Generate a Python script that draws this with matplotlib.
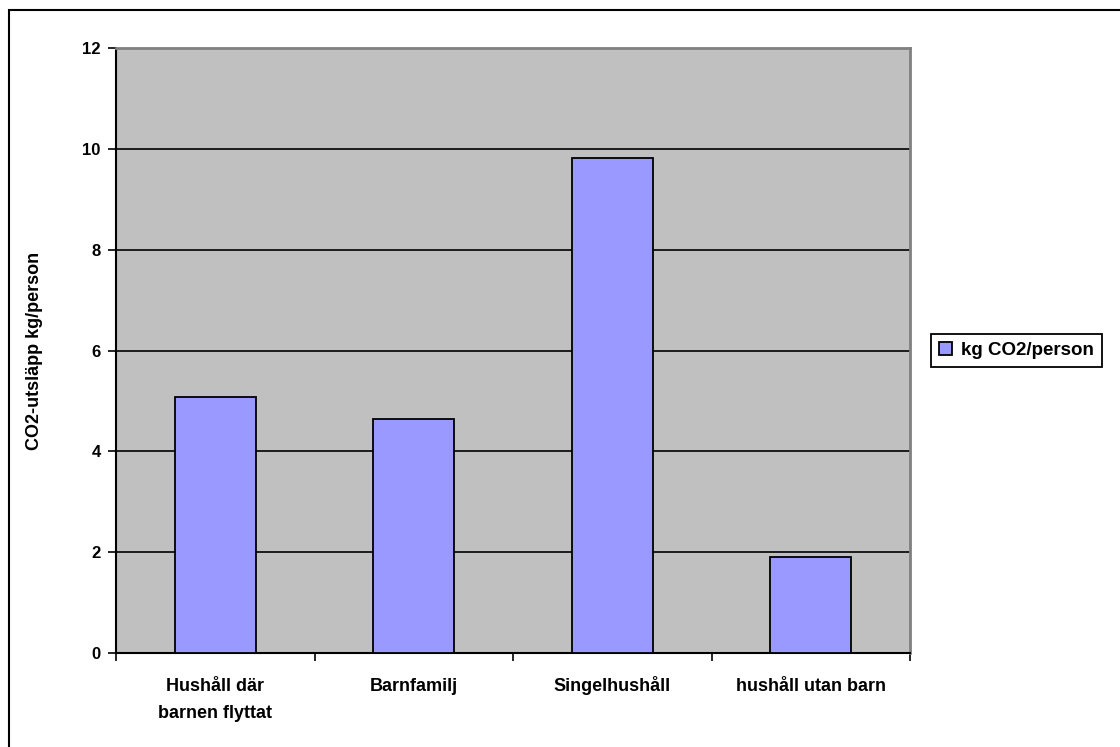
import matplotlib.pyplot as plt
from matplotlib.patches import Rectangle

categories = ["Hushåll där\nbarnen flyttat", "Barnfamilj", "Singelhushåll", "hushåll utan barn"]
values = [5.07, 4.64, 9.81, 1.91]
series_name = "kg CO2/person"

plt.rcParams['font.family'] = ['Liberation Sans', 'DejaVu Sans']
plt.rcParams['font.weight'] = 'bold'

fig = plt.figure(figsize=(11.2, 7.47), dpi=100)
ax = fig.add_axes([0.1036, 0.1258, 0.7089, 0.8099])
ax.set_facecolor('#c0c0c0')

x = list(range(len(categories)))
ax.bar(x, values, width=0.41, color='#9999ff', edgecolor='black', linewidth=1.3,
       label=series_name, zorder=3)

ax.set_xlim(-0.5, len(categories) - 0.5)
ax.set_ylim(0, 12)
ax.set_yticks(range(0, 13, 2))
ax.yaxis.grid(True, color='black', linewidth=1.2, zorder=1)
ax.set_axisbelow(True)

# ticks on category boundaries; each name line placed on its own baseline
ax.set_xticks([i - 0.5 for i in range(len(categories) + 1)])
ax.set_xticklabels([])
for xi, name in zip(x, categories):
    for k, line in enumerate(name.split("\n")):
        ax.annotate(line, xy=(xi, 0), xycoords=('data', 'axes fraction'),
                    xytext=(0, -27.5 - 19 * k), textcoords='offset points',
                    ha='center', va='baseline', fontsize=13, fontweight='bold',
                    annotation_clip=False)
ax.tick_params(axis='x', length=6, width=1.2, direction='out')
ax.tick_params(axis='y', length=6, width=1.2, labelsize=12, pad=5)
for lbl in ax.get_yticklabels():
    lbl.set_fontweight('bold')

ax.spines['left'].set_color('black')
ax.spines['left'].set_linewidth(1.5)
ax.spines['bottom'].set_color('black')
ax.spines['bottom'].set_linewidth(1.5)
ax.spines['top'].set_color('#808080')
ax.spines['top'].set_linewidth(2)
ax.spines['right'].set_color('#808080')
ax.spines['right'].set_linewidth(2)

ax.set_ylabel("CO2-utsläpp kg/person", fontsize=13, fontweight='bold', labelpad=28)

leg = ax.legend(loc='center left', bbox_to_anchor=(1.0264, 0.5), fancybox=False,
                edgecolor='black', framealpha=1, fontsize=13.5, handlelength=0.7,
                handleheight=0.7, handletextpad=0.5, borderpad=0.42, borderaxespad=0)
leg.get_frame().set_linewidth(1.3)
for t in leg.get_texts():
    t.set_fontweight('bold')

# outer chart border
fig.patches.append(Rectangle((9 / 1120, -0.1), 1.2, 1 - 10 / 747 + 0.1,
                             transform=fig.transFigure, fill=False,
                             edgecolor='black', linewidth=1.5))

fig.savefig("out.png", dpi=100)
